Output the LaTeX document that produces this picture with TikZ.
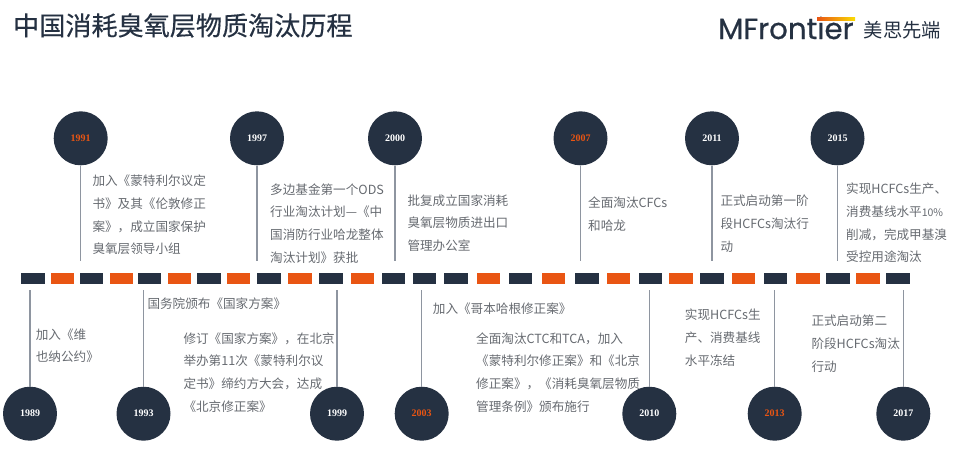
\documentclass[tikz,border=0pt]{standalone}
\usepackage{fontspec}
\newfontfamily\cjk{Noto Sans CJK SC}
\newfontfamily\cjkmed[FakeBold=0.35]{Noto Sans CJK SC}
\newfontfamily\yearfont{Liberation Serif}
\newfontfamily\logofont[FakeBold=0.6]{Poppins}
\usepackage{tikz}
\definecolor{navy}{HTML}{253142}
\definecolor{flame}{HTML}{E95513}
\definecolor{stemgray}{HTML}{8E95A0}
\definecolor{bodygray}{HTML}{666A70}
\tikzstyle{yr}=[circle,fill=navy,draw=none,minimum size=54pt,inner sep=0pt,text=white,font=\yearfont\bfseries\fontsize{10}{12}\selectfont]
\tikzstyle{yrhot}=[yr,text=flame]
\tikzstyle{seg}=[rectangle,draw=none,minimum height=10.7pt,inner sep=0pt,anchor=west]
\tikzstyle{segd}=[seg,fill=navy,minimum width=23.5pt]
\tikzstyle{sego}=[seg,fill=flame,minimum width=23.5pt]
\tikzstyle{stem}=[draw=stemgray,line width=1.1pt]
\tikzstyle{txt}=[anchor=west,align=left,inner sep=0pt,text=bodygray,font=\cjk\fontsize{12.6}{22.7}\selectfont]
\begin{document}
\begin{tikzpicture}[x=1pt,y=-1pt]
\useasboundingbox (0,0) rectangle (954,448);
% title and logo
\node[anchor=west,inner sep=0pt,text=navy,font=\cjkmed\fontsize{26.1}{30}\selectfont] (title) at (13,25.5) {中国消耗臭氧层物质淘汰历程};
\node[anchor=west,inner sep=0pt,text=navy,font=\logofont\fontsize{29.3}{32}\selectfont] (logo) at (718,28) {MFrontier};
\node[anchor=west,inner sep=0pt,minimum width=38pt,minimum height=3pt,left color=flame,right color=yellow!80!flame] (logobar) at (817,18.5) {};
\node[anchor=west,inner sep=0pt,text=navy,font=\cjk\fontsize{19.3}{22}\selectfont] (logocn) at (863.5,30) {美思先端};
% timeline bar
\node[segd] (s1) at (21,278.7) {}; \node[sego] (s2) at (50.3,278.7) {}; \node[segd] (s3) at (79.7,278.7) {}; \node[sego] (s4) at (109.3,278.7) {};
\node[segd] (s5) at (137.7,278.7) {}; \node[sego] (s6) at (167.7,278.7) {}; \node[segd] (s7) at (197,278.7) {}; \node[sego] (s8) at (226.7,278.7) {};
\node[segd] (s9) at (257,278.7) {}; \node[sego] (s10) at (288,278.7) {}; \node[segd] (s11) at (319,278.7) {}; \node[sego] (s12) at (350.7,278.7) {};
\node[segd] (s13) at (381.7,278.7) {}; \node[segd] (s14) at (412.3,278.7) {}; \node[segd] (s15) at (444,278.7) {}; \node[sego] (s16) at (476.5,278.7) {};
\node[segd] (s17) at (508.3,278.7) {}; \node[sego] (s18) at (541.3,278.7) {}; \node[segd] (s19) at (575,278.7) {}; \node[sego] (s20) at (606.3,278.7) {};
\node[segd] (s21) at (638.3,278.7) {}; \node[sego] (s22) at (669,278.7) {}; \node[segd] (s23) at (700,278.7) {}; \node[sego] (s24) at (731.7,278.7) {};
\node[segd] (s25) at (763.3,278.7) {}; \node[sego] (s26) at (796,278.7) {}; \node[segd] (s27) at (826,278.7) {}; \node[sego] (s28) at (856,278.7) {};
\node[segd] (s29) at (886,278.7) {};
% years above
\node[yrhot] (y1991) at (80.7,138.3) {1991};
\node[yr] (y1997) at (257,138.3) {1997};
\node[yr] (y2000) at (395,138.3) {2000};
\node[yrhot] (y2007) at (580.5,138.3) {2007};
\node[yr] (y2011) at (712,138.3) {2011};
\node[yr] (y2015) at (837.5,138.3) {2015};
% years below
\node[yr] (y1989) at (30,413.7) {1989};
\node[yr] (y1993) at (143.5,413.7) {1993};
\node[yr] (y1999) at (337,413.7) {1999};
\node[yrhot] (y2003) at (421.7,413.7) {2003};
\node[yr] (y2010) at (649.3,413.7) {2010};
\node[yrhot] (y2013) at (774.7,413.7) {2013};
\node[yr] (y2017) at (903.3,413.7) {2017};
% stem ends
\coordinate (e1991) at (80.7,261.3); \coordinate (e1997) at (257,261.3); \coordinate (e2000) at (395,261.3);
\coordinate (e2007) at (580.5,261.3); \coordinate (e2011) at (712,261.3); \coordinate (e2015) at (837.5,261.3);
\coordinate (e1989) at (30,290); \coordinate (e1993) at (143.5,290); \coordinate (e1999) at (337,290); \coordinate (e2003) at (421.7,290);
\coordinate (e2010) at (649.3,290); \coordinate (e2013) at (774.7,290); \coordinate (e2017) at (903.3,290);
\draw[stem] (y1991) -- (e1991); \draw[stem] (y1997) -- (e1997); \draw[stem] (y2000) -- (e2000);
\draw[stem] (y2007) -- (e2007); \draw[stem] (y2011) -- (e2011); \draw[stem] (y2015) -- (e2015);
\draw[stem] (y1989) -- (e1989); \draw[stem] (y1993) -- (e1993); \draw[stem] (y1999) -- (e1999); \draw[stem] (y2003) -- (e2003);
\draw[stem] (y2010) -- (e2010); \draw[stem] (y2013) -- (e2013); \draw[stem] (y2017) -- (e2017);
% texts above
\node[txt] (t1991) at (92.3,215) {加入《蒙特利尔议定\\书》及其《伦敦修正\\案》，成立国家保护\\臭氧层领导小组};
\node[txt] (t1997) at (270,223.5) {多边基金第一个ODS\\行业淘汰计划—《中\\国消防行业哈龙整体\\淘汰计划》获批};
\node[txt] (t2000) at (407.3,223) {批复成立国家消耗\\臭氧层物质进出口\\管理办公室};
\node[txt] (t2007) at (588,214.5) {全面淘汰CFCs\\和哈龙};
\node[txt] (t2011) at (720.3,223.7) {正式启动第一阶\\段HCFCs淘汰行\\动};
\node[txt] (t2015) at (846,223) {实现HCFCs生产、\\消费基线水平{\fontsize{10.5}{22.7}\selectfont 10\%}\\削减，完成甲基溴\\受控用途淘汰};
% texts below
\node[txt] (t1989) at (35.7,345.7) {加入《维\\也纳公约》};
\node[txt] (t1993) at (147.3,304) {国务院颁布《国家方案》};
\node[txt] (t1999) at (183.3,372.3) {修订《国家方案》，在北京\\举办第11次《蒙特利尔议\\定书》缔约方大会，达成\\《北京修正案》};
\node[txt] (t2003a) at (432.7,308.3) {加入《哥本哈根修正案》};
\node[txt] (t2003b) at (476,372.3) {全面淘汰CTC和TCA，加入\\《蒙特利尔修正案》和《北京\\修正案》，《消耗臭氧层物质\\管理条例》颁布施行};
\node[txt] (t2010) at (684.7,337.5) {实现HCFCs生\\产、消费基线\\水平冻结};
\node[txt] (t2013) at (811.3,343.5) {正式启动第二\\阶段HCFCs淘汰\\行动};
\end{tikzpicture}
\end{document}
